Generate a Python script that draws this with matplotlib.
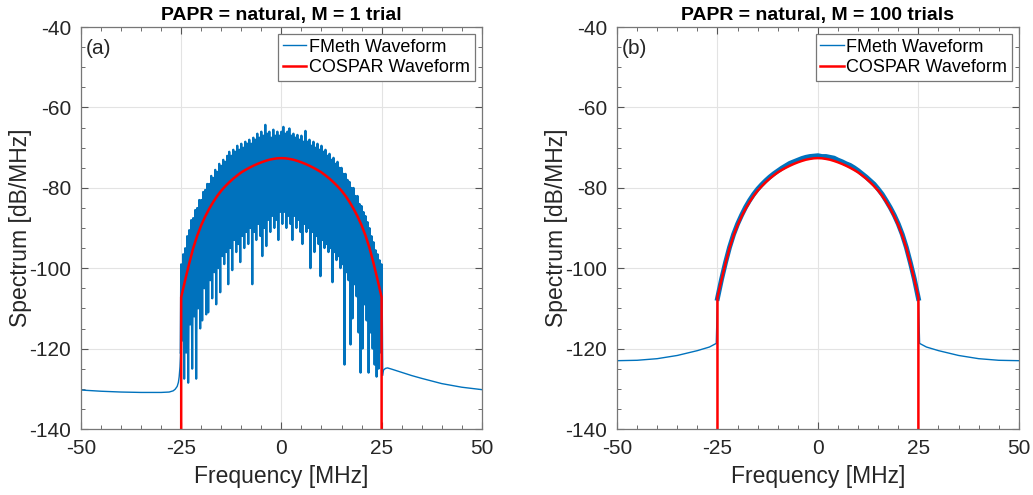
import numpy as np
import matplotlib
matplotlib.use('Agg')
import matplotlib.pyplot as plt
from matplotlib.ticker import MultipleLocator

plt.rcParams['font.family'] = ['Liberation Sans', 'DejaVu Sans']
plt.rcParams['axes.unicode_minus'] = False

blue = '#0072BD'
red = '#FF0000'

# COSPAR reference spectrum (same in both panels), dB/MHz
cospar_f = [-25.0, -25, -24, -23, -22, -21, -20, -19, -18, -17, -16, -15, -14, -13, -12, -11, -10,
            -9, -8, -7, -6, -5, -4, -3, -2, -1, 0, 1, 2, 3, 4, 5, 6, 7, 8, 9, 10,
            11, 12, 13, 14, 15, 16, 17, 18, 19, 20, 21, 22, 23, 24, 25, 25.0]
cospar_v = [-145, -107.2, -102.9, -98.8, -95.0, -91.9, -89.3, -87.1, -85.2, -83.5, -82.0, -80.7,
            -79.6, -78.6, -77.7, -76.9, -76.15, -75.55, -75.0, -74.5, -74.05, -73.65, -73.3,
            -73.0, -72.8, -72.65, -72.6, -72.65, -72.8, -73.0, -73.3, -73.65, -74.05, -74.5,
            -75.0, -75.55, -76.15, -76.9, -77.7, -78.6, -79.6, -80.7, -82.0, -83.5, -85.2,
            -87.1, -89.3, -91.9, -95.0, -98.8, -102.9, -107.2, -145]

# (a) single trial: out-of-band parts
a_left_f = [-50, -45, -40, -35, -30, -28, -27, -26.5, -26, -25.7, -25.5, -25.3, -25.15]
a_left_v = [-130.3, -130.6, -130.8, -130.9, -130.9, -130.8, -130.5, -130.1, -129.4, -128.4,
            -127.0, -124.5, -121.0]
a_right_f = [25.2, 25.5, 26, 26.5, 27.5, 30, 32.5, 35, 40, 45, 50]
a_right_v = [-126.5, -125.3, -124.9, -124.8, -125.1, -125.9, -126.7, -127.4, -128.7, -129.6, -130.2]

# (a) in-band: spike tops every 0.5 MHz from -25 to 25
a_top_f = np.arange(-25, 25.01, 0.5)
a_top_v = [-99.0, -96.5, -95.0, -92.0, -90.5, -88.0, -87.5, -85.5, -85.0, -83.0,
           -83.0, -81.0, -80.5, -79.0, -79.0, -77.0, -77.5, -75.5, -76.0, -74.0,
           -74.5, -73.0, -73.5, -72.0, -71.0, -72.0, -70.5, -71.0, -69.5, -70.5,
           -69.0, -70.0, -68.5, -69.0, -68.0, -69.0, -67.5, -68.0, -66.5, -67.5,
           -66.0, -67.0, -64.3, -66.5, -66.0, -67.5, -65.5, -67.0, -66.0, -67.0,
           -66.0,
           -64.8, -66.5, -66.0, -65.2, -67.0, -66.5, -67.5, -66.8, -68.0, -67.0,
           -68.5, -65.8, -68.5, -68.0, -69.5, -68.5, -70.0, -69.0, -70.5, -69.5,
           -71.0, -70.5, -72.0, -71.5, -73.0, -72.5, -74.0, -73.5, -75.0, -75.0,
           -76.5, -76.5, -78.0, -78.5, -80.0, -80.0, -82.0, -82.0, -84.0, -84.5,
           -86.0, -87.0, -88.5, -90.0, -92.0, -93.5, -95.5, -96.5, -98.0, -99.0]
# (a) in-band: dips between the tops (-24.75 ... 24.75)
a_dip_f = a_top_f[:-1] + 0.25
a_dip_v = [-118, -127.5, -121, -128.5, -114, -125, -112, -127.5, -110, -115,
           -113, -105, -111.5, -111, -103, -107.5, -101, -109, -100, -106,
           -97, -99, -96, -104, -95, -100.5, -93, -96, -94, -98.5,
           -92, -95, -91, -94, -90, -104, -91, -93, -89, -92,
           -97, -90, -94.5, -88, -91, -87, -90, -88, -93, -86,
           -89, -86, -90, -87, -89, -93, -87, -90, -88, -91,
           -94, -89, -91, -90, -100, -91, -96, -92, -94, -102,
           -93, -95, -94, -96, -95, -103.5, -96, -98, -97, -100,
           -99, -124, -101, -103, -119, -112.5, -104, -107, -116, -126,
           -120, -109, -113, -126, -116, -120, -124, -127, -125, -121]

# (b) 100 trials averaged
b_left_f = [-50, -45, -40, -35, -30, -27, -25.3]
b_left_v = [-123.0, -122.9, -122.5, -121.7, -120.5, -119.6, -118.7]
b_mid_f = list(range(-25, 26))
b_mid_v = [-107.5, -102.8, -98.6, -94.8, -91.6, -89.0, -86.8, -84.8, -83.1, -81.6,
           -80.3, -79.2, -78.2, -77.3, -76.5, -75.8, -75.1, -74.5, -73.9, -73.5,
           -73.1, -72.7, -72.4, -72.2, -72.1, -72.0, -72.2, -72.2, -72.4, -72.6,
           -73.1, -73.5, -74.0, -74.4, -75.0, -75.7, -76.5, -77.3, -78.2, -79.1,
           -80.3, -81.6, -83.2, -84.9, -86.8, -89.0, -91.6, -94.8, -98.6, -102.7, -107.5]
b_right_f = [25.3, 27, 30, 35, 40, 45, 50]
b_right_v = [-118.7, -119.6, -120.5, -121.7, -122.5, -122.9, -123.0]

# stitch the single-trial trace together
zz_f = np.empty(len(a_top_f) + len(a_dip_f))
zz_v = np.empty(len(zz_f))
zz_f[0::2] = a_top_f
zz_f[1::2] = a_dip_f
zz_v[0::2] = a_top_v
zz_v[1::2] = a_dip_v
a_f = np.concatenate([a_left_f[-1:], zz_f, a_right_f[:1]])
a_v = np.concatenate([a_left_v[-1:], zz_v, a_right_v[:1]])

b_f = np.concatenate([b_left_f, b_mid_f, b_right_f])
b_v = np.concatenate([b_left_v, b_mid_v, b_right_v])

fig = plt.figure(figsize=(10.33, 4.95), dpi=100)
ax1 = fig.add_axes([0.0784, 0.1333, 0.388, 0.812])
ax2 = fig.add_axes([0.5973, 0.1333, 0.389, 0.812])

ax1.plot(a_left_f, a_left_v, color=blue, lw=1.0, label='FMeth Waveform')
ax1.plot(a_right_f, a_right_v, color=blue, lw=1.0)
ax1.plot(a_f, a_v, color=blue, lw=1.5)
ax1.plot(cospar_f, cospar_v, color=red, lw=1.8, label='COSPAR Waveform')

ax2.plot(b_f, b_v, color=blue, lw=1.0, label='FMeth Waveform')
ax2.plot(b_mid_f, b_mid_v, color=blue, lw=3.5)
ax2.plot(cospar_f, cospar_v, color=red, lw=1.8, label='COSPAR Waveform')

titles = ['PAPR = natural, M = 1 trial', 'PAPR = natural, M = 100 trials']
tags = ['(a)', '(b)']
for ax, ttl, tag in zip([ax1, ax2], titles, tags):
    ax.set_xlim(-50, 50)
    ax.set_ylim(-140, -40)
    ax.xaxis.set_major_locator(MultipleLocator(25))
    ax.xaxis.set_minor_locator(MultipleLocator(5))
    ax.yaxis.set_major_locator(MultipleLocator(20))
    ax.yaxis.set_minor_locator(MultipleLocator(5))
    ax.tick_params(which='both', direction='in', top=True, right=True,
                   color='#555555', labelcolor='#262626')
    ax.tick_params(which='major', length=5, labelsize=15, pad=7)
    ax.tick_params(which='minor', length=3)
    ax.grid(True, which='major', color='#e3e3e3', lw=0.8)
    ax.set_axisbelow(True)
    for s in ax.spines.values():
        s.set_color('#777777')
        s.set_linewidth(0.9)
    ax.set_xlabel('Frequency [MHz]', fontsize=16.5, color='#262626', labelpad=5)
    ax.set_ylabel('Spectrum [dB/MHz]', fontsize=16.5, color='#262626', labelpad=-2)
    ax.set_title(ttl, fontsize=14, fontweight='bold', pad=5)
    ax.text(-48.7, -45.3, tag, fontsize=15, color='#262626', va='center', ha='left')
    leg = ax.legend(loc='upper right', fontsize=13, handlelength=1.3, handletextpad=0.15,
                    borderpad=0.25, labelspacing=0.2, fancybox=False, framealpha=1,
                    edgecolor='#777777', borderaxespad=0.4)
    leg.get_frame().set_linewidth(0.9)

fig.savefig('out.png', dpi=100)
